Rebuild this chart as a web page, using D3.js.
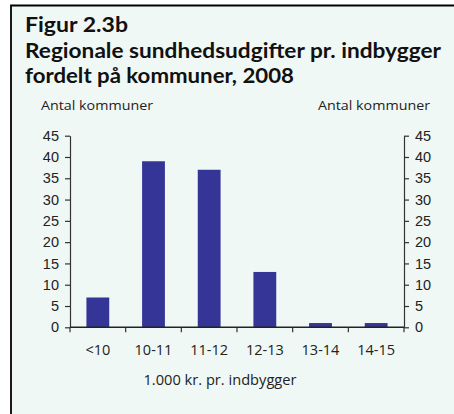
<!DOCTYPE html>
<html>
<head>
<meta charset="utf-8">
<script src="https://cdn.jsdelivr.net/npm/d3@7"></script>
<style>
  body { margin: 0; background: #ffffff; }
  svg { display: block; font-family: "Open Sans", "DejaVu Sans", sans-serif; }
</style>
</head>
<body>
<div id="chart"></div>
<script>
// Regional health spending per inhabitant, distribution of municipalities, 2008
const categories = ['<10', '10-11', '11-12', '12-13', '13-14', '14-15'];
const counts = [7, 39, 37, 13, 1, 1];
const yTicks = [0, 5, 10, 15, 20, 25, 30, 35, 40, 45];

const width = 454;
const height = 414;
const plot = { left: 70, right: 404, top: 135.7, bottom: 327.3 };

const svg = d3.select('#chart')
    .append('svg')
    .attr('width', width)
    .attr('height', height);

// panel background, framed on left and top only
svg.append('rect')
    .attr('x', 10).attr('y', 5)
    .attr('width', width - 10).attr('height', height - 5)
    .attr('fill', '#f0f8f5');
svg.append('path')
    .attr('d', `M11,${height} V5.5 H${width}`)
    .attr('fill', 'none')
    .attr('stroke', '#000')
    .attr('stroke-width', 1.8);

const fitText = (sel, len) => sel.attr('textLength', len).attr('lengthAdjust', 'spacingAndGlyphs');

const titleLines = [
    { text: 'Figur 2.3b', y: 32, len: 103 },
    { text: 'Regionale sundhedsudgifter pr. indbygger', y: 58, len: 416 },
    { text: 'fordelt på kommuner, 2008', y: 83, len: 269 }
];

svg.append('g')
    .selectAll('text')
    .data(titleLines)
    .join('text')
    .attr('x', 25)
    .attr('y', (d) => d.y)
    .attr('font-family', 'Lato, "Open Sans", sans-serif')
    .attr('font-size', 21.5)
    .attr('font-weight', 700)
    .attr('fill', '#111')
    .text((d) => d.text)
    .each(function (d) { d3.select(this).call(fitText, d.len); });

svg.append('text')
    .attr('x', 41).attr('y', 110)
    .attr('font-size', 13.5).attr('fill', '#222')
    .text('Antal kommuner')
    .call(fitText, 112);
svg.append('text')
    .attr('x', 318).attr('y', 110)
    .attr('font-size', 13.5).attr('fill', '#222')
    .text('Antal kommuner')
    .call(fitText, 112);

const x = d3.scaleBand()
    .domain(categories)
    .range([plot.left, plot.right])
    .paddingInner(0.59)
    .paddingOuter(0.295);

const xTicks = d3.scalePoint()
    .domain(d3.range(categories.length + 1))
    .range([plot.left, plot.right]);

const y = d3.scaleLinear()
    .domain([0, 45])
    .range([plot.bottom, plot.top]);

// bars
svg.append('g')
    .selectAll('rect')
    .data(counts)
    .join('rect')
    .attr('x', (d, i) => x(categories[i]))
    .attr('y', (d) => y(d))
    .attr('width', x.bandwidth())
    .attr('height', (d) => y(0) - y(d))
    .attr('fill', '#353597');

const styleAxis = (g) => {
    g.select('.domain').attr('stroke', '#333').attr('stroke-width', 1.2);
    g.selectAll('.tick line').attr('stroke', '#333').attr('stroke-width', 1.2);
    g.selectAll('.tick text').attr('fill', '#222').attr('font-size', 14.5);
};

svg.append('g')
    .attr('transform', `translate(${plot.left},0)`)
    .call(d3.axisLeft(y).tickValues(yTicks).tickSize(5).tickSizeOuter(0).tickPadding(6))
    .call(styleAxis);

svg.append('g')
    .attr('transform', `translate(${plot.right},0)`)
    .call(d3.axisRight(y).tickValues(yTicks).tickSize(5).tickSizeOuter(0).tickPadding(6))
    .call(styleAxis);

// category boundary ticks along the baseline
const xAxis = svg.append('g')
    .attr('transform', `translate(0,${plot.bottom})`);
xAxis.append('line')
    .attr('x1', plot.left).attr('x2', plot.right)
    .attr('stroke', '#222').attr('stroke-width', 1.5);
xAxis.selectAll('line.tick')
    .data(xTicks.domain())
    .join('line')
    .attr('class', 'tick')
    .attr('x1', (d) => xTicks(d)).attr('x2', (d) => xTicks(d))
    .attr('y1', 0).attr('y2', 5)
    .attr('stroke', '#333').attr('stroke-width', 1.2);
xAxis.selectAll('text')
    .data(categories)
    .join('text')
    .attr('x', (d) => x(d) + x.bandwidth() / 2)
    .attr('y', 28)
    .attr('text-anchor', 'middle')
    .attr('font-size', 14.5)
    .attr('fill', '#222')
    .text((d) => d);

svg.append('text')
    .attr('x', 220).attr('y', 385)
    .attr('text-anchor', 'middle')
    .attr('font-size', 14)
    .attr('fill', '#222')
    .text('1.000 kr. pr. indbygger')
    .call(fitText, 153);
</script>
</body>
</html>
